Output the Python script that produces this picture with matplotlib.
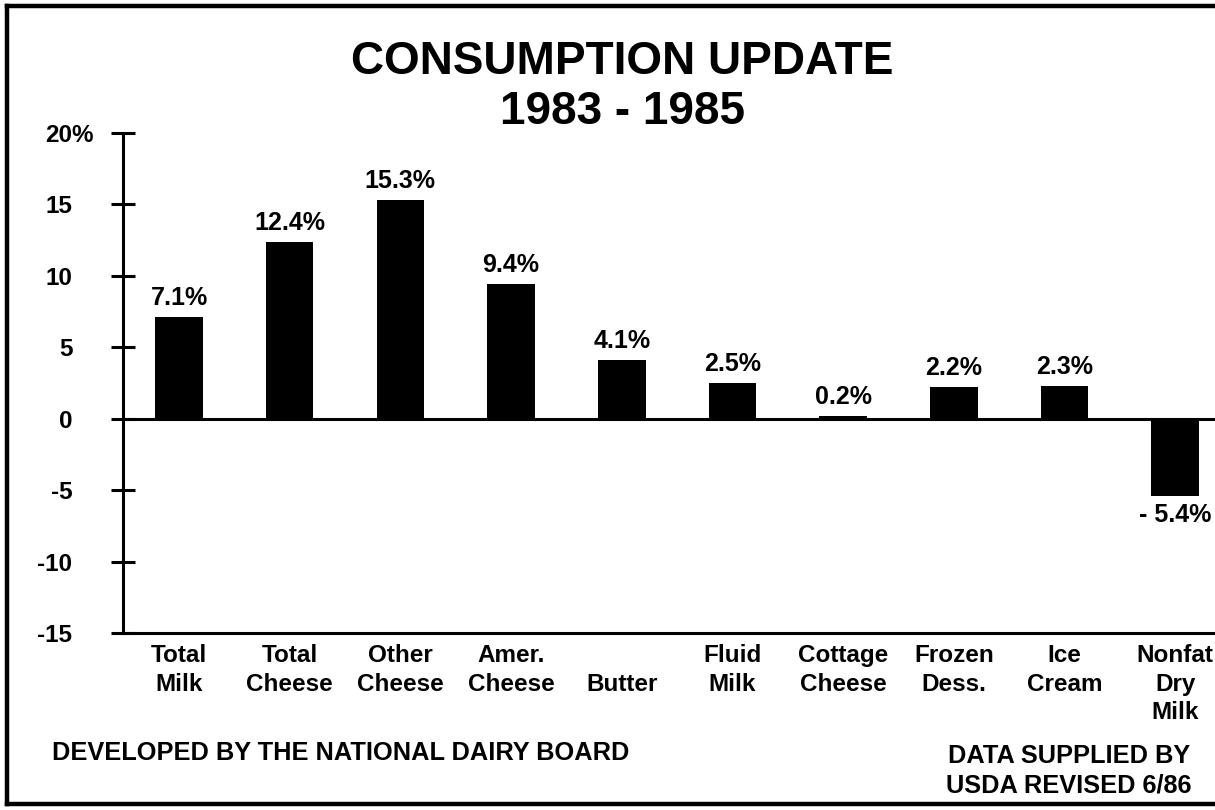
import matplotlib
matplotlib.use("Agg")
import matplotlib.pyplot as plt
import numpy as np
from matplotlib.lines import Line2D
from matplotlib.transforms import ScaledTranslation

# ---- data ----
categories = ["Total\nMilk", "Total\nCheese", "Other\nCheese", "Amer.\nCheese", "\nButter",
              "Fluid\nMilk", "Cottage\nCheese", "Frozen\nDess.", "Ice\nCream", "Nonfat\nDry\nMilk"]
changes = [7.1, 12.4, 15.3, 9.4, 4.1, 2.5, 0.2, 2.2, 2.3, -5.4]
value_labels = ["7.1%", "12.4%", "15.3%", "9.4%", "4.1%", "2.5%", "0.2%", "2.2%", "2.3%", "- 5.4%"]
yticks = [20, 15, 10, 5, 0, -5, -10, -15]
ytick_labels = ["20%", "15", "10", "5", "0", "-5", "-10", "-15"]
title_lines = ["CONSUMPTION UPDATE", "1983 - 1985"]
footer_left = "DEVELOPED BY THE NATIONAL DAIRY BOARD"
footer_right = "DATA SUPPLIED BY\nUSDA REVISED 6/86"

plt.rcParams["font.family"] = ["Liberation Sans", "DejaVu Sans"]
plt.rcParams["font.weight"] = "bold"

W, H = 1215, 810
fig = plt.figure(figsize=(W / 100, H / 100), dpi=100)
fig.patch.set_facecolor("white")

ax = fig.add_axes([123 / W, 1 - 633 / H, (W - 123) / W, 500 / H])
x = np.arange(len(categories))
bars = ax.bar(x, changes, width=0.43, color="black", zorder=3)
ax.set_xlim(-0.506, 9.36)
ax.set_ylim(-15, 20)

for s in ["top", "right"]:
    ax.spines[s].set_visible(False)
for s in ["left", "bottom"]:
    ax.spines[s].set_linewidth(2.2)
    ax.spines[s].set_color("black")
ax.axhline(0, color="black", lw=2.2, zorder=4)

ax.set_yticks(yticks)
ax.set_yticklabels(ytick_labels, fontsize=17.5, fontweight="bold")
ax.tick_params(axis="y", direction="inout", length=17, width=2.2, pad=28)
for lab, t in zip(ax.get_yticklabels(), ytick_labels):
    if t.endswith("%"):
        lab.set_transform(lab.get_transform() + ScaledTranslation(21 / 100, 0, fig.dpi_scale_trans))

ax.set_xticks(x)
ax.set_xticklabels(categories, fontsize=17.5, fontweight="bold", linespacing=1.3)
ax.tick_params(axis="x", length=0, pad=8)

ax.bar_label(bars, labels=value_labels, padding=5, fontsize=18, fontweight="bold")

# title
fig.text(622 / W, 1 - 62 / H, title_lines[0], ha="center", va="center", fontsize=33, fontweight="bold")
fig.text(622 / W, 1 - 112 / H, title_lines[1], ha="center", va="center", fontsize=33, fontweight="bold")

# footers
fig.text(52 / W, 1 - 753 / H, footer_left, ha="left", va="center", fontsize=18.3, fontweight="bold")
fig.text(1069 / W, 1 - 771 / H, footer_right, ha="center", va="center", fontsize=18.3,
         fontweight="bold", multialignment="center", linespacing=1.3)

# frame (left, top, bottom)
lw = 3.2
fig.add_artist(Line2D([7 / W, 7 / W], [1 - 6 / H, 1 - 804 / H], transform=fig.transFigure, color="black", lw=lw))
fig.add_artist(Line2D([7 / W, 1], [1 - 6 / H, 1 - 6 / H], transform=fig.transFigure, color="black", lw=lw))
fig.add_artist(Line2D([7 / W, 1], [1 - 804 / H, 1 - 804 / H], transform=fig.transFigure, color="black", lw=lw))

fig.savefig("out.png", dpi=100)
